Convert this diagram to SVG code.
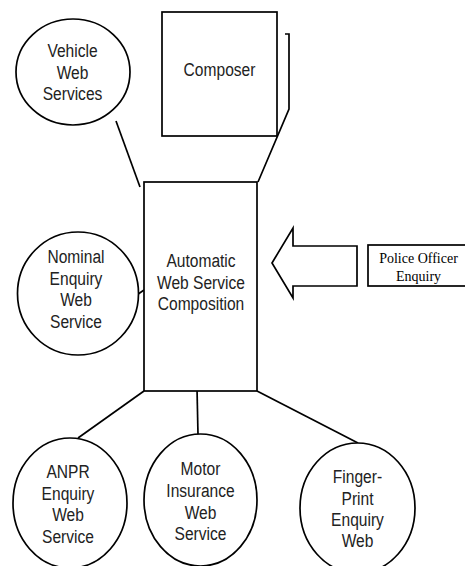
<svg xmlns="http://www.w3.org/2000/svg" width="465" height="566" viewBox="0 0 465 566">
<style>
.s{fill:#fff;stroke:#000;stroke-width:1.7}
.c{fill:none;stroke:#000;stroke-width:1.7}
.t{font-family:"Liberation Sans",Arial,sans-serif;font-size:19px;fill:#222;text-anchor:middle}
.p{font-family:"Liberation Serif","Times New Roman",serif;font-size:14px;fill:#000;text-anchor:middle}
</style>
<defs><clipPath id="pc"><rect x="368" y="245" width="100" height="41"/></clipPath></defs>
<rect width="465" height="566" fill="#fff"/>
<g id="connectors">
<line class="c" x1="116" y1="121" x2="140" y2="187"/>
<polyline class="c" points="285,34 289,34 289,109 258,182"/>
<line class="c" x1="134" y1="297" x2="144" y2="290"/>
<line class="c" x1="144" y1="391" x2="78" y2="438"/>
<line class="c" x1="197" y1="388" x2="198" y2="435"/>
<line class="c" x1="257" y1="391" x2="358" y2="443"/>
</g>
<g id="composer">
<rect class="s" x="162" y="12" width="115" height="124"/>
<text class="t" transform="translate(219.5 76) scale(.82 1)">Composer</text>
</g>
<g id="vehicle">
<ellipse class="s" cx="73" cy="72" rx="57" ry="53"/>
<text class="t" transform="translate(72.5 57) scale(.82 1)">Vehicle</text>
<text class="t" transform="translate(72.5 79) scale(.82 1)">Web</text>
<text class="t" transform="translate(72.5 100) scale(.82 1)">Services</text>
</g>
<g id="main">
<rect class="s" x="144" y="182" width="113" height="209"/>
<text class="t" transform="translate(201 267) scale(.82 1)">Automatic</text>
<text class="t" transform="translate(201 288.5) scale(.82 1)">Web Service</text>
<text class="t" transform="translate(201 310) scale(.82 1)">Composition</text>
</g>
<g id="nominal">
<ellipse class="s" cx="78" cy="293.5" rx="60.5" ry="61.5"/>
<text class="t" transform="translate(76 263) scale(.82 1)">Nominal</text>
<text class="t" transform="translate(76 284.5) scale(.82 1)">Enquiry</text>
<text class="t" transform="translate(76 306) scale(.82 1)">Web</text>
<text class="t" transform="translate(76 327.5) scale(.82 1)">Service</text>
</g>
<g id="arrow">
<polygon class="s" points="272,263 293,228 293,246 357,246 357,286 293,286 293,298"/>
</g>
<g id="police">
<rect class="s" x="368" y="245" width="100" height="41"/>
<g clip-path="url(#pc)">
<text class="p" x="418.5" y="263">Police Officer</text>
<text class="p" x="418.5" y="281">Enquiry</text>
</g>
</g>
<g id="anpr">
<ellipse class="s" cx="70" cy="503" rx="57" ry="65"/>
<text class="t" transform="translate(68 478) scale(.82 1)">ANPR</text>
<text class="t" transform="translate(68 499.5) scale(.82 1)">Enquiry</text>
<text class="t" transform="translate(68 521) scale(.82 1)">Web</text>
<text class="t" transform="translate(68 542.5) scale(.82 1)">Service</text>
</g>
<g id="motor">
<ellipse class="s" cx="200.5" cy="500" rx="56.5" ry="66"/>
<text class="t" transform="translate(200.5 475) scale(.82 1)">Motor</text>
<text class="t" transform="translate(200.5 497) scale(.82 1)">Insurance</text>
<text class="t" transform="translate(200.5 518.5) scale(.82 1)">Web</text>
<text class="t" transform="translate(200.5 540) scale(.82 1)">Service</text>
</g>
<g id="finger">
<ellipse class="s" cx="357.5" cy="508" rx="57.5" ry="65"/>
<text class="t" transform="translate(357.5 483) scale(.82 1)">Finger-</text>
<text class="t" transform="translate(357.5 504.5) scale(.82 1)">Print</text>
<text class="t" transform="translate(357.5 526) scale(.82 1)">Enquiry</text>
<text class="t" transform="translate(357.5 547) scale(.82 1)">Web</text>
</g>
</svg>
